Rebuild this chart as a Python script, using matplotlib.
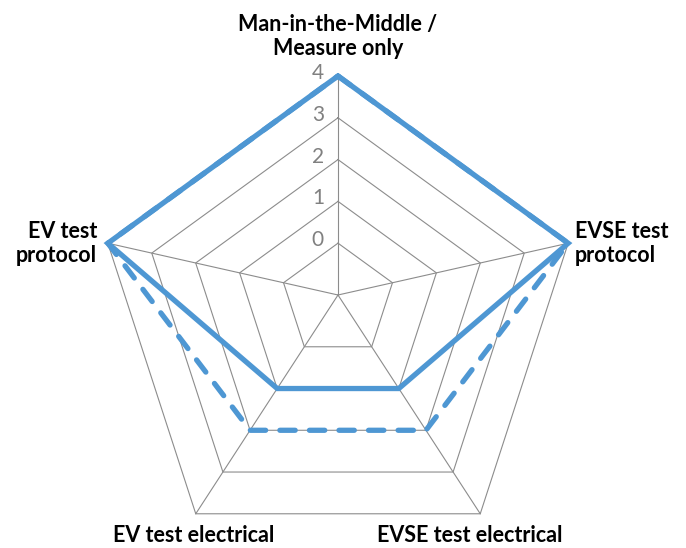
import matplotlib
matplotlib.use("Agg")
import matplotlib.pyplot as plt
import numpy as np

# ─── Data ─────────────────────────────────────────────────────────────────────
categories = [
    "Man-in-the-Middle /\nMeasure only",
    "EVSE test\nprotocol",
    "EVSE test electrical",
    "EV test electrical",
    "EV test\nprotocol",
]
solid_values  = [4, 4, 1, 1, 4]
dashed_values = [4, 4, 2, 2, 4]
ring_values   = [0, 1, 2, 3, 4]
tick_labels   = ["0", "1", "2", "3", "4"]
AXIS_MIN, AXIS_MAX = -1.24, 4

# ─── Geometry (pixel-like data space, y down) ─────────────────────────────────
W, H    = 686, 548
HUB     = np.array([338.0, 295.0])      # where the spokes meet
OUTER_C = np.array([338.0, 318.0])      # centre of the outer pentagon
OUTER_R = 242.0
BLUE    = "#4E97D3"
GRID    = "#8c8c8c"

angles = np.deg2rad(90 - 72 * np.arange(len(categories)))
outer = np.column_stack([OUTER_C[0] + OUTER_R * np.cos(angles),
                         OUTER_C[1] - OUTER_R * np.sin(angles)])


def to_xy(values):
    t = (np.asarray(values, float) - AXIS_MIN) / (AXIS_MAX - AXIS_MIN)
    pts = HUB + t[:, None] * (outer - HUB)
    return np.vstack([pts, pts[:1]])


fig = plt.figure(figsize=(W / 100, H / 100), dpi=100)
ax = fig.add_axes([0, 0, 1, 1])
ax.set_xlim(0, W)
ax.set_ylim(H, 0)
ax.axis("off")

# grid rings + spokes
for v in ring_values:
    ring = to_xy([v] * len(categories))
    ax.plot(ring[:, 0], ring[:, 1], color=GRID, lw=0.8, zorder=1)
for p in outer:
    ax.plot([HUB[0], p[0]], [HUB[1], p[1]], color=GRID, lw=0.8, zorder=1)

# series
d = to_xy(dashed_values)
ax.plot(d[:, 0], d[:, 1], color=BLUE, lw=3.8, dashes=(2.9, 2.7),
        dash_capstyle="round", solid_joinstyle="miter", zorder=2)
s = to_xy(solid_values)
ax.plot(s[:, 0], s[:, 1], color=BLUE, lw=3.8,
        solid_joinstyle="miter", solid_capstyle="butt", zorder=3)

# radial tick labels
for v, lab in zip(ring_values, tick_labels):
    y = to_xy([v] * len(categories))[0, 1]
    ax.text(324, y - 3, lab, ha="right", va="center", fontsize=15,
            color="#808080", family="Lato")

# category labels (one text per line, placed by baseline)
label_pos = [
    (338, [31, 55], "center"),
    (575, [238, 262], "left"),
    (470, [542], "center"),
    (194, [542], "center"),
    (97, [238, 262], "right"),
]
for name, (x, baselines, ha) in zip(categories, label_pos):
    for line, yb in zip(name.split("\n"), baselines):
        ax.text(x, yb, line, ha=ha, va="baseline", fontsize=15.5,
                fontweight="bold", family="Lato", color="black")

fig.savefig("out.png", dpi=100)
